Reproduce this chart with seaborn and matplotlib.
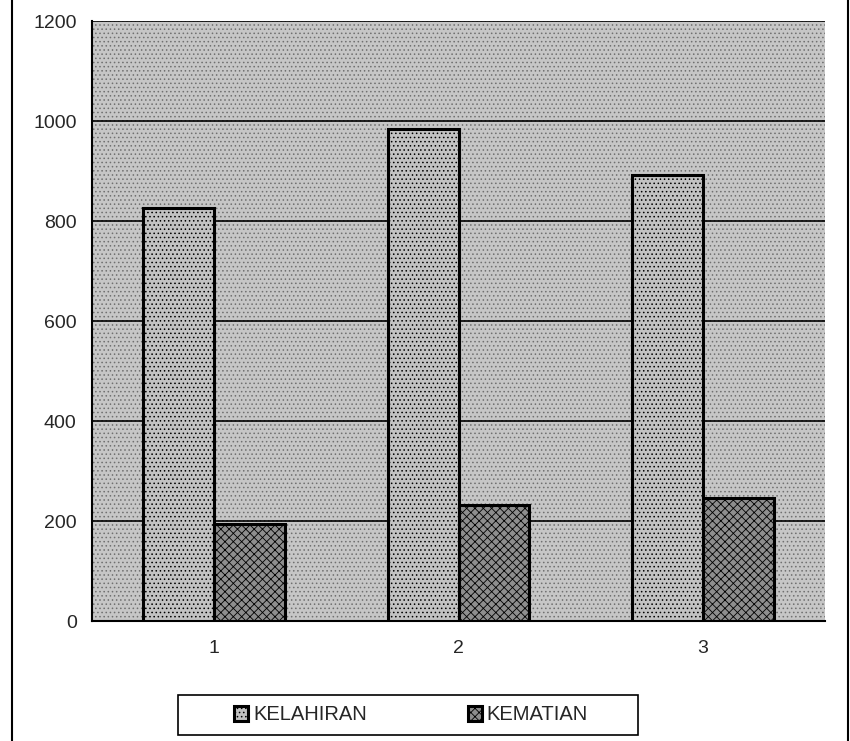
import pandas as pd
import matplotlib
matplotlib.use('Agg')
import matplotlib.pyplot as plt
import seaborn as sns
from matplotlib.patches import Rectangle

# Data
categories = ['1', '2', '3']
kelahiran = [827, 984, 893]
kematian = [195, 232, 247]
series_names = ['KELAHIRAN', 'KEMATIAN']
y_ticks = [0, 200, 400, 600, 800, 1000, 1200]

df = pd.DataFrame({
    'kategori': categories * 2,
    'jumlah': kelahiran + kematian,
    'seri': [series_names[0]] * 3 + [series_names[1]] * 3,
})

sns.set_style('white')
plt.rcParams['font.family'] = ['Liberation Sans', 'DejaVu Sans']
plt.rcParams['hatch.linewidth'] = 0.6

fig = plt.figure(figsize=(8.5, 7.41), dpi=100)
ax = fig.add_axes([92 / 850, (741 - 621) / 741, (825 - 92) / 850, (621 - 21) / 741])

palette = {'KELAHIRAN': '#c2c2c2', 'KEMATIAN': '#8e8e8e'}
sns.barplot(data=df, x='kategori', y='jumlah', hue='seri', palette=palette,
            width=0.58, edgecolor='black', linewidth=2.2, saturation=1,
            errorbar=None, ax=ax, zorder=3)

# hatch texture like the scanned print
for bar in ax.patches:
    fc = bar.get_facecolor()
    if fc[0] < 0.7:
        bar.set_hatch('xxxx')
    else:
        bar.set_hatch('....')

# plot area background with dotted texture
ax.set_facecolor('#c6c6c6')
bg = Rectangle((0, 0), 1, 1, transform=ax.transAxes, facecolor='none',
               edgecolor='#707070', linewidth=0, hatch='....', zorder=0)
ax.add_patch(bg)

ax.set_ylim(0, 1200)
ax.set_xlim(-0.5, 2.5)
ax.set_yticks(y_ticks)
ax.yaxis.grid(True, color='black', linewidth=1.2)
for g in ax.get_ygridlines():
    g.set_zorder(2)

ax.set_xlabel('')
ax.set_ylabel('')
ax.tick_params(axis='y', which='major', direction='out', length=6, width=1,
               color='black', labelsize=14, pad=5)
ax.tick_params(axis='x', which='major', length=0, labelsize=14, pad=14)
ax.set_xticks([0.5, 1.5], minor=True)
ax.tick_params(axis='x', which='minor', direction='out', length=5, width=1)

for side in ['top', 'right']:
    ax.spines[side].set_visible(False)
for side in ['left', 'bottom']:
    ax.spines[side].set_color('black')
    ax.spines[side].set_linewidth(1.5)

# legend below the plot, with its own wide box
handles, labels = ax.get_legend_handles_labels()
ax.legend_.remove()
leg = fig.legend(handles, labels, loc='center', ncol=2,
                 bbox_to_anchor=(411 / 850, (741 - 715) / 741),
                 frameon=False, fontsize=14.5, handlelength=0.7,
                 handleheight=0.7, handletextpad=0.25, columnspacing=5.0,
                 borderpad=0, borderaxespad=0)
fig.patches.append(Rectangle((178 / 850, (741 - 735) / 741),
                             (638 - 178) / 850, 40 / 741,
                             transform=fig.transFigure, fill=False,
                             edgecolor='black', linewidth=1.2))

# outer chart border (left/right edges visible in the scan)
fig.patches.append(Rectangle((12 / 850, -0.01), (848 - 12) / 850, 1.02,
                             transform=fig.transFigure, fill=False,
                             edgecolor='black', linewidth=1.5))

fig.savefig('out.png', dpi=100)
